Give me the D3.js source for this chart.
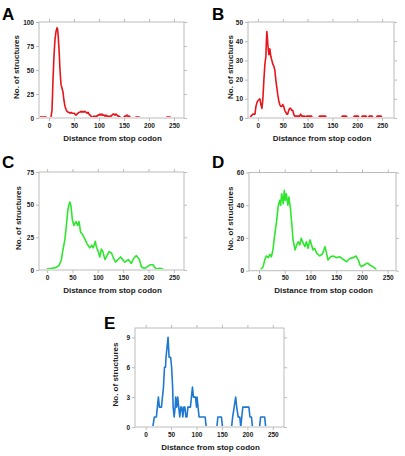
<!DOCTYPE html>
<html><head><meta charset="utf-8">
<script src="https://cdn.jsdelivr.net/npm/d3@7"></script>
<style>html,body{margin:0;padding:0;background:#fff;}svg{display:block;}</style>
</head><body>
<svg id="chart" width="405" height="456"></svg>
<script>
// ---------------- DATA ----------------
const xTickValues = [0, 50, 100, 150, 200, 250];
const xTitle = "Distance from stop codon";
const yTitle = "No. of structures";

const aDistance = [-18,-6,-4,2,4,6,8,10,12,14,16,17,18,20,22,24,26,28,30,32,34,36,38,40,42,44,46,48,50,52,54,56,58,60,62,64,66,68,70,72,74,76,78,80,82,84,86,88,90,92,94,96,98,100,102,104,106,108,110,112,114,116,118,120,122,124,126,128,130,132,134,136,138,140,142,144,148,150,152,154,156,158,160,162,164,172,174,180,182,234,236,242,244];
const aCount =    [1,1,0,0,1,8,40,65,82,90,94,93,88,72,50,35,31,27,18,12,9,7,6,6,5,6,5,5,5,4,3,4,5,6,6,7,6,7,6,7,6,5,6,4,3,2,1,1,2,1,2,2,3,3,4,3,4,3,3,2,3,2,2,1,2,2,3,4,4,3,4,3,2,2,1,0,0,1,2,2,3,2,2,1,0,0,1,1,0,0,1,1,0];

const bDistance = [-16,-14,-10,-6,-4,-2,0,2,4,6,8,10,12,14,16,17,18,19,20,22,24,26,28,30,32,34,36,38,40,42,44,46,48,50,52,54,56,58,60,62,64,66,68,70,72,74,84,86,88,94,96,98,108,110,122,124,136,138,168,170,178,180,192,194,202,204,208,210,218,220,222,224,230,232,238,240,248,250];
const bCount =    [0,1,2,2,6,8,9,9.5,10,7,5,10,20,28,32,40,45,42,38,33,36,32,30,28,27,25,20,16,12,9,7,6,6,7,6,4,3,2,2,4,5,5,4,4,2,1,1,2,1,1,0,1,1,0,0,1,1,0,0,1,1,0,0,1,1,0,0,1,1,0,0,1,1,0,0,1,1,0];

const cDistance = [-1,10,18,24,28,31,35,38,41,43,45,47,50,53,55,57,60,63,66,70,74,79,84,88,91,95,97,101,104,107,110,114,117,122,127,131,135,140,145,149,153,160,166,171,176,182,186,191,196,203,209,212,216,222,229];
const cCount =    [0.8,1.3,2,3.8,7.6,15,23,34,46,50,52,49,38,34,36,37,34,37,29,27,24,20,17,19,17,22,18,14,10,16,14,8,10,14,13,9,6,8,10,8,6,8,5,9,11,8,2.5,1.3,2,4,4,2,0.8,1.3,0.8];

const dDistance = [3,8,11,14,18,21,24,27,30,34,37,40,42,44,47,49,51,53,56,58,61,64,66,70,73,76,79,82,86,89,92,95,99,102,105,108,112,118,123,128,131,134,139,144,150,157,163,170,176,183,188,193,196,199,204,209,212,215,221,225,228];
const dCount =    [0.4,2.5,6.5,9,8,10,8.5,12.7,20.8,30,39,43,40,47,41,49,43,47,40,45,38,27,19,12.7,15.7,17.7,15.7,19.8,16.7,14.7,17.7,13.7,18.8,15.7,12.7,13.7,10.7,9,10.2,14.7,10.7,6.5,8.5,9,8,8.5,7,5.5,7.5,8,9,6.5,3.5,2.5,3.5,4.5,4.5,3.5,2.5,1.5,0.4];

const eDistance = [14,17,21,23,25,27,31,33,35,37,39,40,42,44,46,49,51,53,54,56,58,59,61,63,65,67,69,71,73,75,77,79,81,83,86,88,90,92,94,96,98,100,101,103,105,108,114,117,119,140,142,149,151,169,171,174,177,179,182,185,187,189,191,203,205,208,210,224,226,234,236];
const eCount =    [0,1,1,2,3,2,2,3,4,6,6,7,8,9,7,7,6,4,2,1,2,3,2,3,2,1,2,2,1,2,2,1,1,2,2,2,3,4,3,3,3,2,3,2,1,1,1,1,0,0,1,1,0,0,1,2,3,2,1,1,0,1,2,2,1,1,0,0,1,1,0];

// ---------------- LAYOUT ----------------
const panels = [
  {letter:"A", xs:aDistance, ys:aCount, color:"#e8141c", box:[39,184,22,118], xd:[-20,270], yd:[0,100], yt:[0,25,50,75,100], lx:2, ly:20, ytx:16},
  {letter:"B", xs:bDistance, ys:bCount, color:"#e8141c", box:[248,394,22,118], xd:[-20,274], yd:[0,50], yt:[0,10,20,30,40,50], lx:212, ly:20, ytx:230},
  {letter:"C", xs:cDistance, ys:cCount, color:"#2ee62e", box:[39,184,172,270], xd:[-16,270], yd:[0,75], yt:[0,25,50,75], lx:2, ly:168, ytx:18},
  {letter:"D", xs:dDistance, ys:dCount, color:"#2ee62e", box:[249,396,172.5,270.7], xd:[-19.5,266], yd:[0,60], yt:[0,20,40,60], lx:212, ly:168, ytx:230},
  {letter:"E", xs:eDistance, ys:eCount, color:"#1f78d0", box:[135,284,328,427], xd:[-21,272], yd:[0,9.94], yt:[0,3,6,9], lx:104, ly:329, ytx:115}
];

const svg = d3.select("#chart");
const frameColor = "#bcbcbc";
const textColor = "#1a1a1a";
const fontFam = "'Liberation Sans', Arial, Helvetica, sans-serif";

panels.forEach((p, i) => {
  const [L, R, T, B] = p.box;
  const x = d3.scaleLinear().domain(p.xd).range([L, R]);
  const y = d3.scaleLinear().domain(p.yd).range([B, T]);
  const g = svg.append("g");

  const cid = "clip" + i;
  svg.append("clipPath").attr("id", cid).append("rect")
    .attr("x", L + 0.5).attr("y", T).attr("width", R - L - 1).attr("height", B - T - 1.1);

  const data = p.xs.map((d, k) => [d, p.ys[k]]);
  const line = d3.line().x(d => x(d[0])).y(d => y(d[1]));
  g.append("path").datum(data).attr("d", line)
    .attr("fill", "none").attr("stroke", p.color).attr("stroke-width", 1.6)
    .attr("stroke-linejoin", "round").attr("clip-path", `url(#${cid})`);

  g.append("rect").attr("x", L).attr("y", T).attr("width", R - L).attr("height", B - T)
    .attr("fill", "none").attr("stroke", frameColor).attr("stroke-width", 1);

  const bottomAx = d3.axisBottom(x).tickValues(xTickValues).tickSize(3).tickPadding(2).tickFormat(d3.format("d"));
  const topAx = d3.axisTop(x).tickValues(xTickValues).tickSize(3).tickFormat("");
  const leftAx = d3.axisLeft(y).tickValues(p.yt).tickSize(3).tickPadding(2).tickFormat(d3.format("d"));
  const rightAx = d3.axisRight(y).tickValues(p.yt).tickSize(3).tickFormat("");

  const styleAx = sel => {
    sel.select(".domain").remove();
    sel.selectAll(".tick line").attr("stroke", frameColor);
    sel.selectAll(".tick text").attr("fill", textColor).attr("font-family", fontFam)
      .attr("font-weight", "bold").attr("font-size", 6.5);
  };
  g.append("g").attr("transform", `translate(0,${B})`).call(bottomAx).call(styleAx);
  g.append("g").attr("transform", `translate(0,${T})`).call(topAx).call(styleAx);
  g.append("g").attr("transform", `translate(${L},0)`).call(leftAx).call(styleAx);
  g.append("g").attr("transform", `translate(${R},0)`).call(rightAx).call(styleAx);

  g.append("text").attr("x", (L + R) / 2 + 1).attr("y", B + 22.5)
    .attr("text-anchor", "middle").attr("font-family", fontFam).attr("font-weight", "bold")
    .attr("font-size", 8).attr("fill", textColor).text(xTitle);
  g.append("text").attr("transform", `translate(${p.ytx + 2.8},${(T + B) / 2 - 3}) rotate(-90)`)
    .attr("text-anchor", "middle").attr("font-family", fontFam).attr("font-weight", "bold")
    .attr("font-size", 8).attr("fill", textColor).text(yTitle);

  g.append("text").attr("x", p.lx).attr("y", p.ly).attr("font-family", fontFam)
    .attr("font-weight", "bold").attr("font-size", 17).attr("fill", "#000").text(p.letter);
});
</script>
</body></html>
